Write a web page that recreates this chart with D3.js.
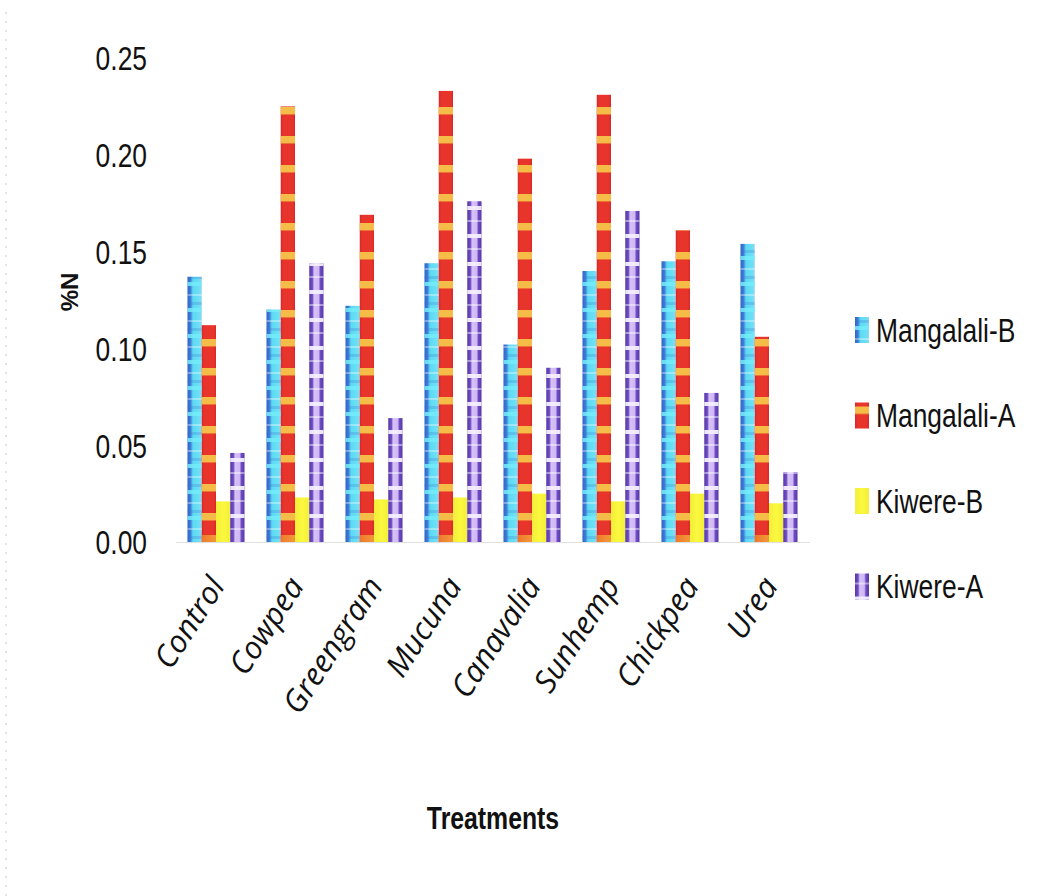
<!DOCTYPE html>
<html>
<head>
<meta charset="utf-8">
<script src="https://cdn.jsdelivr.net/npm/d3@7"></script>
<style>
  html, body { margin: 0; padding: 0; background: #fff; }
  svg { display: block; }
</style>
</head>
<body>
<script>
// Soil nitrogen (%N) by treatment and site
const categories = ["Control", "Cowpea", "Greengram", "Mucuna", "Canavalia", "Sunhemp", "Chickpea", "Urea"];
const seriesNames = ["Mangalali-B", "Mangalali-A", "Kiwere-B", "Kiwere-A"];
const mangalaliB = [0.137, 0.120, 0.122, 0.144, 0.102, 0.140, 0.145, 0.154];
const mangalaliA = [0.112, 0.225, 0.169, 0.233, 0.198, 0.231, 0.161, 0.106];
const kiwereB    = [0.021, 0.023, 0.022, 0.023, 0.025, 0.021, 0.025, 0.020];
const kiwereA    = [0.046, 0.144, 0.064, 0.176, 0.090, 0.171, 0.077, 0.036];
const yTicks = [0.00, 0.05, 0.10, 0.15, 0.20, 0.25];

const seriesValues = [mangalaliB, mangalaliA, kiwereB, kiwereA];
const rows = categories.map((c, i) => ({
  category: c,
  values: seriesNames.map((s, k) => ({ series: s, key: k, value: seriesValues[k][i] }))
}));

const W = 1043, H = 896;
const NARROW = "'Liberation Sans', Arial, sans-serif";
const SQUEEZE = 0.8;   // horizontal squeeze to get a condensed face
const svg = d3.select("body").append("svg").attr("width", W).attr("height", H);
const defs = svg.append("defs");

// --- fills: horizontal gradients for bar body, horizontal band patterns on top ---
function hGrad(id, stops) {
  const g = defs.append("linearGradient").attr("id", id)
    .attr("x1", 0).attr("x2", 1).attr("y1", 0).attr("y2", 0);
  stops.forEach(([o, c]) => g.append("stop").attr("offset", o).attr("stop-color", c));
}
hGrad("g-blue", [[0, "#2f64c8"], [0.22, "#3d7fd9"], [0.38, "#5fd8f2"], [0.75, "#66e0f6"], [1, "#8fd6f2"]]);
hGrad("g-red", [[0, "#d9262a"], [0.2, "#e8352c"], [0.8, "#e8352c"], [1, "#d9282a"]]);
hGrad("g-yellow", [[0, "#f2ee3a"], [0.5, "#fbf83f"], [1, "#f3ef3a"]]);
hGrad("g-purple", [[0, "#5638a8"], [0.22, "#6f4cc4"], [0.34, "#d6c2f6"], [0.66, "#d0b8f4"], [0.78, "#6f4cc4"], [1, "#5638a8"]]);

function bandPattern(id, period, bands) {
  const p = defs.append("pattern").attr("id", id)
    .attr("patternUnits", "userSpaceOnUse")
    .attr("x", 0).attr("y", 542 % period)
    .attr("width", 2000).attr("height", period);
  bands.forEach(([y, h, c, op]) =>
    p.append("rect").attr("x", 0).attr("y", y).attr("width", 2000).attr("height", h)
      .attr("fill", c).attr("opacity", op));
}
bandPattern("p-blue", 26, [[0, 4, "#74ecfb", 0.85], [12, 2, "#ffffff", 0.35], [20, 3, "#3a70cf", 0.25]]);
bandPattern("p-red", 29, [[0, 7, "#f6c34a", 0.95], [7, 1, "#f29a3a", 0.6]]);
bandPattern("p-purple", 28, [[0, 4, "#f4eefc", 0.95], [14, 2, "#ffffff", 0.45]]);

const fills = [
  { base: "url(#g-blue)", over: "url(#p-blue)" },
  { base: "url(#g-red)", over: "url(#p-red)" },
  { base: "url(#g-yellow)", over: null },
  { base: "url(#g-purple)", over: "url(#p-purple)" }
];

// --- scales ---
const x0 = d3.scaleBand().domain(categories).range([176.5, 808.5])
  .paddingInner(0.278).paddingOuter(0.139);
const x1 = d3.scaleBand().domain(d3.range(seriesNames.length)).range([0, x0.bandwidth()]);
const y = d3.scaleLinear().domain([0, 0.25]).range([542, 58]);

// faint page edge
svg.append("line").attr("x1", 6).attr("x2", 6).attr("y1", 12).attr("y2", H)
  .attr("stroke", "#c8c8c8").attr("stroke-width", 1).attr("stroke-dasharray", "2,7");

// baseline
svg.append("line").attr("x1", 176).attr("x2", 810).attr("y1", y(0) + 0.5).attr("y2", y(0) + 0.5)
  .attr("stroke", "#e0e0e0").attr("stroke-width", 1);

// --- bars ---
const groups = svg.append("g").selectAll("g").data(rows).join("g")
  .attr("transform", d => `translate(${x0(d.category)},0)`);

groups.selectAll("rect.base").data(d => d.values).join("rect")
  .attr("class", "base")
  .attr("x", d => x1(d.key)).attr("width", x1.bandwidth())
  .attr("y", d => y(d.value)).attr("height", d => y(0) - y(d.value))
  .attr("fill", d => fills[d.key].base);

groups.selectAll("rect.over").data(d => d.values.filter(v => fills[v.key].over)).join("rect")
  .attr("class", "over")
  .attr("x", d => x1(d.key)).attr("width", x1.bandwidth())
  .attr("y", d => y(d.value)).attr("height", d => y(0) - y(d.value))
  .attr("fill", d => fills[d.key].over);

// warm glow at the foot of the red bars
hGrad("g-foot", [[0, "#f08a2c"], [1, "#f5b23c"]]);
groups.selectAll("rect.foot").data(d => d.values.filter(v => v.key === 1)).join("rect")
  .attr("class", "foot")
  .attr("x", d => x1(d.key)).attr("width", x1.bandwidth())
  .attr("y", y(0) - 7).attr("height", 7)
  .attr("fill", "url(#g-foot)").attr("opacity", 0.8);

// --- y axis (labels only) ---
const yAxis = d3.axisLeft(y).tickValues(yTicks).tickFormat(d3.format(".2f")).tickSize(0).tickPadding(0);
const yg = svg.append("g").attr("transform", "translate(147,0)").call(yAxis);
yg.select(".domain").remove();
yg.selectAll("text")
  .attr("font-family", NARROW)
  .attr("font-size", 33).attr("fill", "#111").attr("dy", "0.36em")
  .attr("transform", `scale(${SQUEEZE},1)`);

svg.append("text")
  .attr("transform", "translate(78,292) rotate(-90)")
  .attr("text-anchor", "middle")
  .attr("font-family", NARROW)
  .attr("font-weight", "bold").attr("font-size", 24).attr("fill", "#111")
  .text("%N");

// --- x axis labels ---
const xAxis = d3.axisBottom(x0).tickSize(0).tickPadding(0);
const xg = svg.append("g").attr("transform", `translate(0,${y(0)})`).call(xAxis);
xg.select(".domain").remove();
xg.selectAll(".tick text")
  .attr("font-family", "'Open Sans', 'Noto Sans', sans-serif")
  .attr("font-style", "italic").attr("font-size", 31).attr("fill", "#111")
  .attr("text-anchor", "end").attr("dy", 0).attr("y", 0)
  .attr("transform", "translate(10,44) rotate(-57)");

svg.append("text")
  .attr("transform", "translate(493,829) scale(0.8,1)")
  .attr("text-anchor", "middle")
  .attr("font-family", NARROW)
  .attr("font-weight", "bold").attr("font-size", 31).attr("fill", "#111")
  .text("Treatments");

// --- legend ---
const legend = svg.append("g").attr("transform", "translate(855,330)");
const li = legend.selectAll("g").data(seriesNames).join("g")
  .attr("transform", (d, i) => `translate(0,${i * 85.5})`);
li.append("rect").attr("x", 0).attr("y", -13).attr("width", 14).attr("height", 26)
  .attr("fill", (d, i) => fills[i].base);
li.filter((d, i) => fills[i].over).append("rect").attr("x", 0).attr("y", -13).attr("width", 14).attr("height", 26)
  .attr("fill", d => fills[seriesNames.indexOf(d)].over);
li.append("text")
  .attr("transform", `translate(21,0) scale(${SQUEEZE},1)`)
  .attr("dy", "0.36em")
  .attr("font-family", NARROW)
  .attr("font-size", 33).attr("fill", "#111")
  .text(d => d);
</script>
</body>
</html>
